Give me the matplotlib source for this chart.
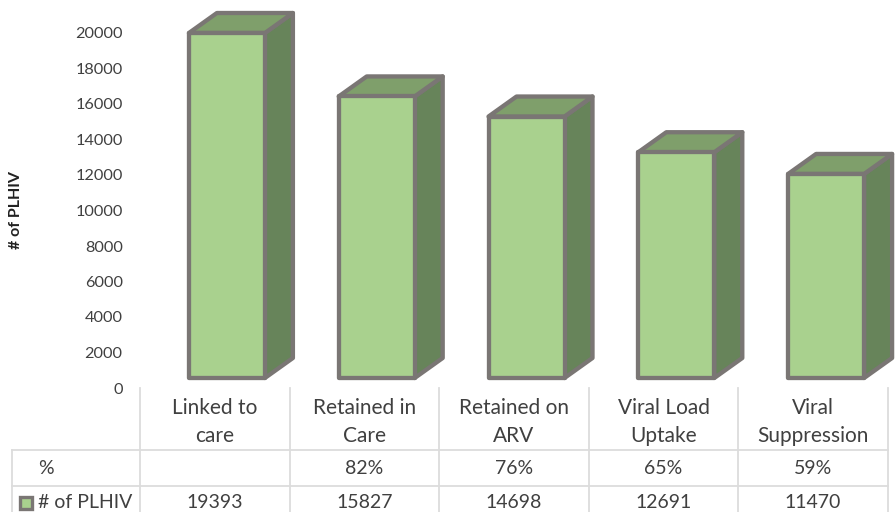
import matplotlib
matplotlib.use("Agg")
import matplotlib.pyplot as plt
from matplotlib.patches import Polygon, Rectangle

W, H = 896, 512

categories = ["Linked to\ncare", "Retained in\nCare", "Retained on\nARV", "Viral Load\nUptake", "Viral\nSuppression"]
bar_values = [19393, 15827, 14698, 12691, 11470]
percent_labels = ["", "82%", "76%", "65%", "59%"]
yticks = list(range(0, 20001, 2000))

FONT = "Lato"
TEXT = "#404040"
EDGE = "#7a7674"
FRONT = "#a9d18e"
TOP = "#7f9f6b"
SIDE = "#67845a"
GRID = "#dcdcdc"

plt.rcParams["font.family"] = [FONT, "DejaVu Sans"]

fig = plt.figure(figsize=(W / 100, H / 100), dpi=100)


def px_axes(left, top, right, bottom):
    return fig.add_axes([left / W, 1 - bottom / H, (right - left) / W, (bottom - top) / H])


# value axis sits 10 px below the bar floor, as in a 3D excel chart
ax_ticks = px_axes(140, 33, 889, 388)
ax_ticks.set_ylim(0, 20000)
ax_ticks.set_xlim(0, 1)
ax_ticks.set_yticks(yticks)
ax_ticks.tick_params(axis="y", length=0, pad=12.5, labelsize=11.7, labelcolor=TEXT)
ax_ticks.set_xticks([])
for s in ax_ticks.spines.values():
    s.set_visible(False)
ax_ticks.patch.set_alpha(0)

# bars
px_per_unit = 345 / 19393
ax = px_axes(140, 0, 889, 378)
ax.set_xlim(-0.5, 4.5)
ax.set_ylim(0, 378 / px_per_unit)
ax.axis("off")

bar_w = 76 / 149.8
shift = 12 / 149.8
dx = 28 / 149.8
dy = 20 / px_per_unit

for i, v in enumerate(bar_values):
    x0 = i + shift - bar_w / 2
    x1 = x0 + bar_w
    style = dict(edgecolor=EDGE, linewidth=3.1, joinstyle="round", clip_on=False)
    ax.add_patch(Polygon([(x1, 0), (x1 + dx, dy), (x1 + dx, v + dy), (x1, v)], facecolor=SIDE, **style))
    ax.add_patch(Polygon([(x0, v), (x0 + dx, v + dy), (x1 + dx, v + dy), (x1, v)], facecolor=TOP, **style))
    ax.add_patch(Rectangle((x0, 0), bar_w, v, facecolor=FRONT, **style))

# data table under the chart, in pixel coordinates
tb = fig.add_axes([0, 0, 1, 1])
tb.set_xlim(0, W)
tb.set_ylim(H, 0)
tb.axis("off")
tb.patch.set_alpha(0)

col_x = [140, 290, 439, 589, 738, 888]
for x in col_x:
    tb.plot([x, x], [388, H], color=GRID, lw=1.3)
tb.plot([12, 12], [450, H], color=GRID, lw=1.3)
for y in [450, 486]:
    tb.plot([12, 888], [y, y], color=GRID, lw=1.3)

for i, cat in enumerate(categories):
    xc = (col_x[i] + col_x[i + 1]) / 2
    tb.text(xc, 422, cat, ha="center", va="center", fontsize=15, color=TEXT, linespacing=1.55)
    tb.text(xc, 468, percent_labels[i], ha="center", va="center", fontsize=14, color=TEXT)
    tb.text(xc, 503, str(bar_values[i]), ha="center", va="center", fontsize=14, color=TEXT)

tb.text(46, 468, "%", ha="center", va="center", fontsize=14, color=TEXT)
tb.text(38, 503, "# of PLHIV", ha="left", va="center", fontsize=14, color=TEXT)
tb.add_patch(Rectangle((20, 497), 12, 12, facecolor=FRONT, edgecolor=EDGE, linewidth=2.4))

fig.text(16 / W, 1 - 210 / H, "# of PLHIV", rotation=90, ha="center", va="center",
         fontsize=11.5, color="#222222", fontweight="bold")

fig.savefig("out.png", dpi=100)
